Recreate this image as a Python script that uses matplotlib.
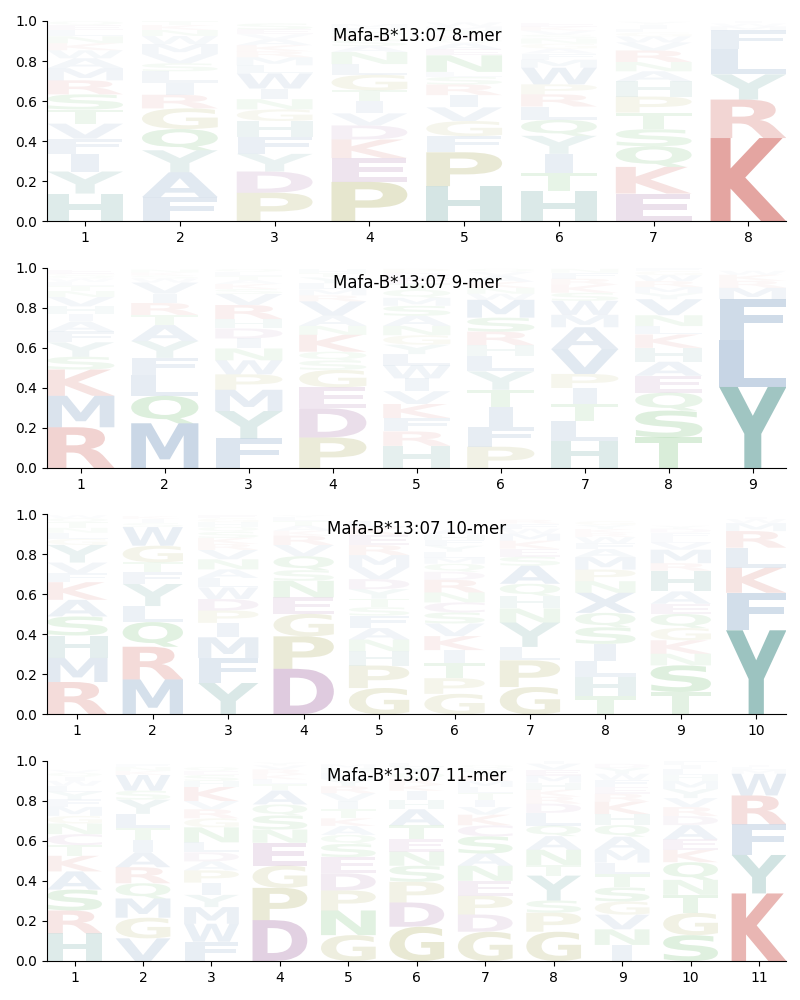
import matplotlib
matplotlib.use('Agg')
import matplotlib.pyplot as plt
from matplotlib.textpath import TextPath
from matplotlib.patches import PathPatch
from matplotlib.font_manager import FontProperties
from matplotlib.transforms import Affine2D

titles = ["Mafa-B*13:07 8-mer", "Mafa-B*13:07 9-mer",
          "Mafa-B*13:07 10-mer", "Mafa-B*13:07 11-mer"]

# letters per position, bottom to top, with matching heights
letters_8 = ["HYIFVTSRMAWKNLEQ", "FAYQGRILSVMWNKT", "PDYFHGNIWLMRKAVES",
             "PEKDVITGLNASRQFM", "HPFGVIRSLNEAQKTMW", "HTIYQLRPWMFAGNSVKE",
             "EKQSTPHANRVWGLIY", "KRYLFMWI"]
heights_8 = [
    [.139, .11, .088, .076, .075, .07, .076, .07, .06, .05, .04, .035, .035, .03, .025, .02],
    [.121, .124, .11, .106, .103, .068, .061, .056, .04, .046, .05, .04, .03, .025, .02],
    [.143, .106, .088, .086, .078, .058, .051, .053, .076, .04, .04, .03, .03, .03, .025, .024, .03],
    [.197, .119, .093, .07, .06, .06, .055, .078, .053, .06, .03, .03, .02, .02, .02, .02],
    [.176, .169, .08, .076, .068, .061, .053, .038, .025, .083, .03, .03, .02, .02, .024, .02, .02],
    [.151, .093, .093, .09, .08, .066, .061, .05, .083, .04, .03, .025, .025, .025, .02, .02, .02, .02],
    [.139, .133, .103, .085, .083, .08, .076, .05, .046, .058, .04, .03, .02, .018, .02, .015],
    [.416, .192, .126, .126, .093, .02, .015, .01],
]

letters_9 = ["RMKSYFAIHVNTLWQGE", "MQLFYATRIVWSKN", "FYMPWNIDHRVSKATLQ",
             "PDEGSQKNAVRMLYTH", "HRFKVIWLYGNASMQTEDP", "PFITYLHRSMWNKAVQ",
             "HLTIPVAMWSKRFN", "TSQEAHKLNVYMRWGF", "YLFMRKW"]
heights_9 = [
    [.203, .157, .131, .064, .072, .054, .05, .035, .04, .047, .03, .025, .02, .017, .015, .01, .02],
    [.223, .137, .104, .085, .084, .08, .05, .06, .047, .055, .02, .015, .015, .015],
    [.147, .137, .106, .077, .07, .059, .05, .05, .047, .07, .055, .025, .025, .02, .02, .02, .015],
    [.152, .146, .104, .087, .047, .044, .084, .045, .052, .07, .03, .03, .03, .03, .02, .02],
    [.11, .072, .067, .07, .064, .064, .064, .057, .047, .047, .047, .05, .05, .04, .04, .03, .03, .025, .02],
    [.106, .1, .1, .084, .092, .077, .054, .067, .07, .089, .03, .03, .03, .03, .02, .015],
    [.136, .1, .084, .079, .07, .124, .109, .062, .07, .04, .04, .03, .03, .02],
    [.152, .134, .09, .084, .07, .069, .067, .042, .054, .08, .03, .03, .03, .03, .02, .015],
    [.404, .234, .204, .057, .035, .03, .02],
]

letters_10 = ["RMHSAKFVYGLNTQW", "MRQLYFTGWSIK", "YFMIPDWLANVRKSQHGE",
              "DPGENSQVRKATLY", "GPHNAFSTYDVMREKL", "GPTIKVSCNRDQMLYFHA",
              "GPLYNHQASEKMWFR", "THLISQXNPMAFWRKYG", "TSNKGQEAHRMVLFDY",
              "YFKLRMWI"]
heights_10 = [
    [.162, .12, .112, .095, .083, .088, .045, .053, .088, .03, .03, .025, .028, .02, .015],
    [.175, .163, .123, .08, .11, .058, .05, .083, .093, .02, .02, .015],
    [.157, .125, .103, .072, .062, .057, .058, .047, .043, .05, .047, .03, .03, .03, .025, .023, .02, .015],
    [.228, .162, .112, .082, .083, .053, .07, .055, .047, .025, .025, .022, .02, .01],
    [.132, .112, .072, .058, .057, .062, .042, .043, .047, .05, .06, .06, .05, .05, .04, .03],
    [.103, .078, .078, .062, .07, .063, .055, .05, .05, .063, .04, .04, .03, .03, .03, .03, .025, .025],
    [.137, .133, .067, .122, .07, .063, .06, .09, .045, .04, .04, .035, .025, .025, .02],
    [.092, .097, .08, .083, .083, .072, .1, .058, .058, .062, .04, .03, .03, .02, .02, .02, .02],
    [.112, .133, .058, .067, .062, .07, .05, .062, .103, .038, .067, .035, .025, .025, .02, .015],
    [.42, .187, .125, .1, .083, .04, .02, .01],
]

letters_11 = ["HRSAKTCNGMFYLWIQV", "VGMQRAITLYSWKNF", "FWMYIPADLNGRVKHSEQ",
              "DPGENSQATLKRVY", "GNPDESQAKTIVRYLHM", "GDPSNETAHIKRQYL",
              "GDPENASCKVITLMRYHQ", "GPSYTNAQLDRKHMEVI", "INVGSTLMAQHKREFWYD",
              "SGTNQKEADRVYMHLIF", "KYFRWMLI"]
heights_11 = [
    [.138, .114, .104, .091, .078, .053, .055, .053, .038, .045, .037, .038, .03, .025, .02, .02, .015],
    [.113, .103, .096, .076, .08, .075, .063, .058, .07, .071, .045, .078, .02, .02, .015],
    [.096, .09, .083, .061, .061, .061, .045, .045, .05, .075, .045, .045, .041, .07, .03, .03, .02, .02],
    [.204, .161, .111, .114, .066, .07, .055, .07, .03, .025, .025, .025, .02, .015],
    [.129, .123, .1, .086, .08, .066, .045, .045, .038, .045, .04, .04, .035, .035, .03, .025, .02],
    [.171, .121, .103, .08, .071, .061, .07, .08, .046, .046, .03, .03, .03, .03, .02],
    [.146, .086, .093, .075, .075, .061, .086, .055, .053, .038, .035, .035, .03, .03, .025, .025, .015, .015],
    [.146, .095, .061, .124, .053, .076, .068, .053, .063, .046, .035, .035, .035, .035, .03, .03, .02],
    [.08, .078, .073, .066, .07, .066, .058, .063, .066, .058, .055, .061, .04, .035, .035, .03, .03, .02],
    [.129, .111, .09, .075, .088, .061, .053, .071, .045, .045, .045, .045, .04, .03, .03, .02, .02],
    [.337, .192, .153, .144, .108, .02, .015, .01],
]

group_colors = {
    "KR": (190, 40, 30),
    "DEC": (115, 30, 115),
    "PG": (128, 128, 10),
    "HY": (20, 112, 106),
    "AFILMVWX": (20, 80, 145),
    "STNQ": (10, 140, 10),
}

color_of = {}
for chars, rgb in group_colors.items():
    for ch in chars:
        color_of[ch] = tuple(v / 255 for v in rgb)

fp = FontProperties(family="DejaVu Sans", weight="bold")
e_bb = TextPath((0, 0), "E", size=1, prop=fp).get_extents()


def draw_letter(ax, ch, x, y, w, h, alpha):
    tp = TextPath((0, 0), ch, size=1, prop=fp)
    bb = tp.get_extents()
    sx = min(w / bb.width, w / e_bb.width)
    gw = bb.width * sx
    sy = h / bb.height
    t = Affine2D().translate(-bb.x0, -bb.y0).scale(sx, sy).translate(x - gw / 2, y)
    path = t.transform_path(tp)
    ax.add_patch(PathPatch(path, facecolor=color_of[ch], edgecolor="none",
                           alpha=min(1.0, alpha), lw=0))


fig, axes = plt.subplots(4, 1, figsize=(8, 10), dpi=100)
fig.subplots_adjust(left=0.059, right=0.983, top=0.979, bottom=0.039, hspace=0.23)

all_letters = [letters_8, letters_9, letters_10, letters_11]
all_heights = [heights_8, heights_9, heights_10, heights_11]

for ax, title, lets, hts in zip(axes, titles, all_letters, all_heights):
    n = len(lets)
    for i, (col_l, col_h) in enumerate(zip(lets, hts)):
        xpos = i + 1
        y = 0.0
        for ch, h in zip(col_l, col_h):
            draw_letter(ax, ch, xpos, y, 0.8, h, h)
            y += h
    ax.set_xlim(0.6, n + 0.4)
    ax.set_ylim(0, 1)
    ax.set_xticks(range(1, n + 1))
    ax.set_yticks([0, 0.2, 0.4, 0.6, 0.8, 1.0])
    ax.spines["top"].set_visible(False)
    ax.spines["right"].set_visible(False)
    ax.text(0.5, 0.925, title, transform=ax.transAxes, ha="center", va="center",
            fontsize=12)

fig.savefig("out.png", dpi=100)
